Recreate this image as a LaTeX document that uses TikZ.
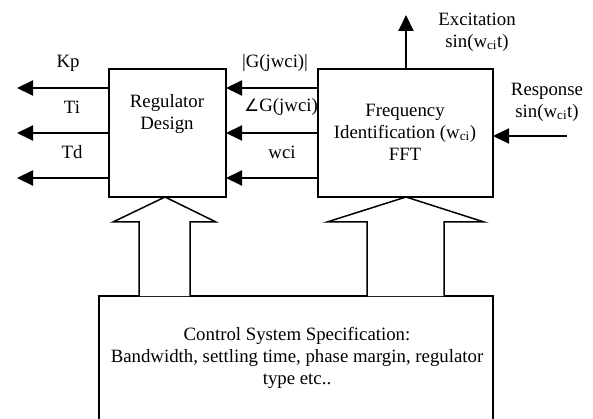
\documentclass[tikz,border=0pt]{standalone}
\usepackage{fontspec}
\setmainfont{Liberation Serif}
\newfontfamily\symf{DejaVu Sans}
\usetikzlibrary{arrows.meta}
\begin{document}
\begin{tikzpicture}[x=1pt,y=-1pt,
  box/.style={draw,line width=1.5pt},
  sig/.style={line width=2pt,-{Triangle[length=16pt,width=15pt]}},
  lbl/.style={font=\fontsize{18.8}{22}\selectfont,align=center,inner sep=0pt},
  big/.style={draw,line width=1.5pt,fill=white,line join=miter}]
\useasboundingbox (0,0) rectangle (593,419);
\begin{scope}
\clip (0,0) rectangle (593,419);
% boxes
\draw[box] (109,69) rectangle (226,197);
\node[lbl] (reg) at (167,114) {Regulator\\Design};
\draw[box] (318,69) rectangle (493,197);
\node[lbl] (fft) at (405,132) {Frequency\\Identification (w\textsubscript{ci})\\FFT};
\draw[box] (99,296) rectangle (493,425);
\node[lbl] (spec) at (297,358) {Control System Specification:\\Bandwidth, settling time, phase margin, regulator\\type etc..};
% coordinates
\coordinate (rl1) at (109,88); \coordinate (rl2) at (109,133); \coordinate (rl3) at (109,178);
\coordinate (o1) at (17,88); \coordinate (o2) at (17,133); \coordinate (o3) at (17,178);
\coordinate (rr1) at (226,88); \coordinate (rr2) at (226,133); \coordinate (rr3) at (226,178);
\coordinate (fl1) at (318,88); \coordinate (fl2) at (318,133); \coordinate (fl3) at (318,178);
\coordinate (ft) at (406,69); \coordinate (ex) at (406,15);
\coordinate (resp) at (567,136); \coordinate (fr) at (493,136);
% arrows
\draw[sig] (rl1) -- (o1);
\draw[sig] (rl2) -- (o2);
\draw[sig] (rl3) -- (o3);
\draw[sig] (fl1) -- (rr1);
\draw[sig] (fl2) -- (rr2);
\draw[sig] (fl3) -- (rr3);
\draw[sig] (ft) -- (ex);
\draw[sig] (resp) -- (fr);
% block arrows
\draw[big] (139,296) -- (139,222) -- (113,222) -- (165,197) -- (216,222) -- (190,222) -- (190,296);
\draw[big] (367,296) -- (367,222) -- (327,222) -- (406,197) -- (484,222) -- (444,222) -- (444,296);
% labels
\node[lbl] (kp) at (68,63) {Kp};
\node[lbl] (ti) at (72,107) {Ti};
\node[lbl] (td) at (72,152) {Td};
\node[lbl] (mag) at (275,63) {|G(jwci)|};
\node[lbl] (ph) at (281,107) {{\symf\fontsize{17}{22}\selectfont ∠}G(jwci)};
\node[lbl] (wci) at (282,152) {wci};
\node[lbl] (exl) at (477,32) {Excitation\\sin(w\textsubscript{ci}t)};
\node[lbl] (rsl) at (547,102) {Response\\sin(w\textsubscript{ci}t)};
\end{scope}
\end{tikzpicture}
\end{document}
